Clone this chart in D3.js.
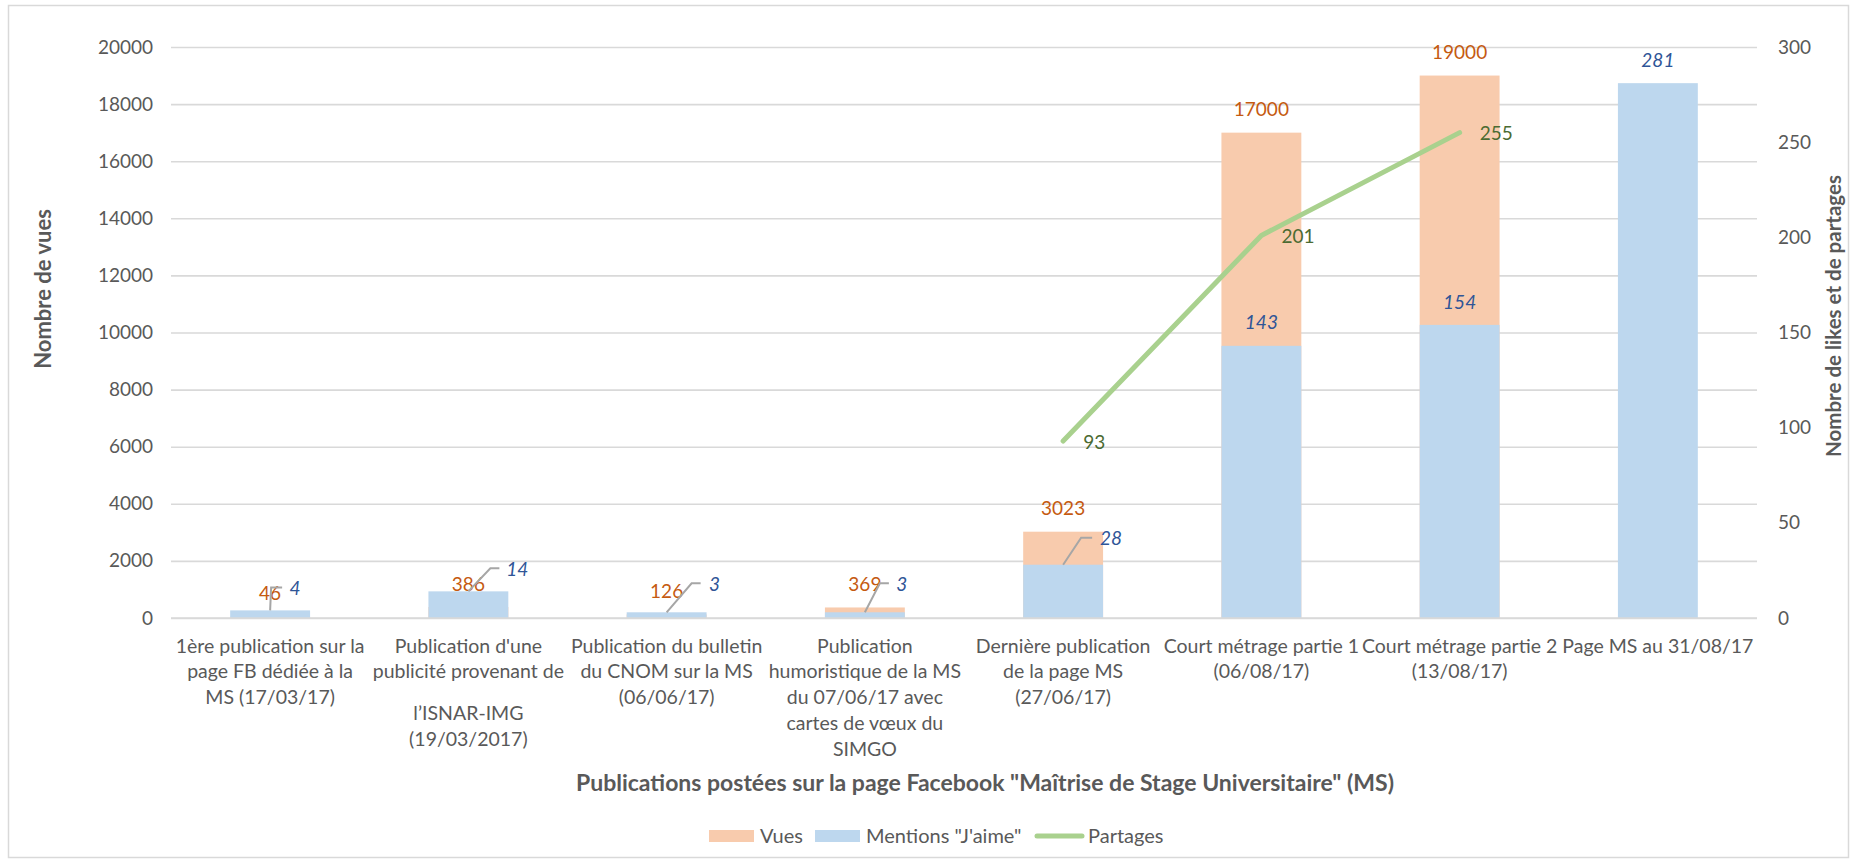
<!DOCTYPE html>
<html><head><meta charset="utf-8">
<script src="https://cdn.jsdelivr.net/npm/d3@7"></script>
<style>
html,body{margin:0;padding:0;background:#fff;}
svg text{font-family:Lato,"Open Sans",sans-serif;}
</style></head>
<body><svg id="chart" width="1851" height="859"></svg>
<script>
// ---------- data ----------
const categories = [
  ["1ère publication sur la","page FB dédiée à la","MS  (17/03/17)"],
  ["Publication d'une","publicité provenant de","","l’ISNAR-IMG","(19/03/2017)"],
  ["Publication du bulletin","du CNOM sur la MS","(06/06/17)"],
  ["Publication","humoristique de la MS","du 07/06/17 avec","cartes de vœux du","SIMGO"],
  ["Dernière publication","de la page MS","(27/06/17)"],
  ["Court métrage partie 1","(06/08/17)"],
  ["Court métrage partie 2","(13/08/17)"],
  ["Page MS au 31/08/17"]
];
const vues = [46, 386, 126, 369, 3023, 17000, 19000, null];
const likes = [4, 14, 3, 3, 28, 143, 154, 281];
const partages = [null, null, null, null, 93, 201, 255, null];
const leftTicks = [0,2000,4000,6000,8000,10000,12000,14000,16000,18000,20000];
const rightTicks = [0,50,100,150,200,250,300];
const seriesNames = ["Vues", "Mentions \"J'aime\"", "Partages"];

// leader-line label placement for small "likes" labels: [elbowDx, elbowDy, endDx, labelDx]
const likeLeader = [[1,-23,12,25],[22,-23,31,49],[25,-29,34,48],[15,-29,24,37],[18,-27,29,48],null,null,null];

// ---------- layout ----------
const svg = d3.select("#chart");
const C = {vues:"#F8CBAD", likes:"#BDD7EE", part:"#A9D18E", grid:"#D9D9D9", txt:"#595959",
           vLab:"#C55A11", lLab:"#2F5597", pLab:"#4B6B32", leader:"#A6A6A6"};
const plotL = 171, plotR = 1757, plotT = 47, plotB = 618;
const idx = d3.range(categories.length);
const x = d3.scaleBand().domain(idx).range([plotL, plotR]).padding(0);
const yL = d3.scaleLinear().domain([0, 20000]).range([plotB, plotT]);
const yR = d3.scaleLinear().domain([0, 300]).range([plotB, plotT]);
const barW = x.bandwidth() * 0.403;
const cx = i => x(i) + x.bandwidth() / 2;
const FS = "19px";

// chart border
svg.append("rect").attr("x", 8.5).attr("y", 5.5).attr("width", 1840).attr("height", 852)
  .attr("fill", "none").attr("stroke", C.grid).attr("stroke-width", 1.5);

// gridlines + left axis
const gL = svg.append("g").attr("transform", `translate(${plotL},0)`)
  .call(d3.axisLeft(yL).tickValues(leftTicks).tickSize(-(plotR - plotL)).tickPadding(18).tickFormat(d3.format("d")));
gL.select(".domain").remove();
gL.selectAll(".tick line").attr("stroke", C.grid).attr("stroke-width", 1.6);
gL.selectAll(".tick text").attr("fill", C.txt).style("font-size", FS);

// right axis
const gR = svg.append("g").attr("transform", `translate(${plotR},0)`)
  .call(d3.axisRight(yR).tickValues(rightTicks).tickSize(0).tickPadding(21));
gR.select(".domain").remove();
gR.selectAll(".tick text").attr("fill", C.txt).style("font-size", FS);

// bars
svg.append("g").selectAll("rect").data(idx.filter(i => vues[i] != null)).join("rect")
  .attr("x", i => cx(i) - barW / 2).attr("width", barW)
  .attr("y", i => yL(vues[i])).attr("height", i => yL(0) - yL(vues[i]))
  .attr("fill", C.vues);
svg.append("g").selectAll("rect").data(idx).join("rect")
  .attr("x", i => cx(i) - barW / 2).attr("width", barW)
  .attr("y", i => yR(likes[i])).attr("height", i => yR(0) - yR(likes[i]))
  .attr("fill", C.likes);

// baseline redraw (on top of bars)
svg.append("line").attr("x1", plotL).attr("x2", plotR).attr("y1", yL(0)).attr("y2", yL(0))
  .attr("stroke", C.grid).attr("stroke-width", 1.6);

// line
const line = d3.line().defined(d => d.v != null).x(d => cx(d.i)).y(d => yR(d.v));
svg.append("path").datum(idx.map(i => ({i, v: partages[i]})))
  .attr("d", line).attr("fill", "none").attr("stroke", C.part)
  .attr("stroke-width", 5).attr("stroke-linecap", "round").attr("stroke-linejoin", "round");

// vues labels
svg.append("g").selectAll("text").data(idx.filter(i => vues[i] != null)).join("text")
  .attr("x", i => cx(i)).attr("y", i => yL(vues[i]) - 23).attr("dy", "0.35em")
  .attr("text-anchor", "middle").attr("fill", C.vLab).style("font-size", FS)
  .text(i => vues[i]);

// likes labels + leaders
const lg = svg.append("g");
idx.forEach(i => {
  const top = yR(likes[i]), c = cx(i), L = likeLeader[i];
  if (L) {
    lg.append("polyline")
      .attr("points", [[c, top], [c + L[0], top + L[1]], [c + L[2], top + L[1]]].map(p => p.join(",")).join(" "))
      .attr("fill", "none").attr("stroke", C.leader).attr("stroke-width", 2);
    lg.append("text").attr("x", c + L[3]).attr("y", top + L[1] + 1).attr("dy", "0.35em")
      .attr("text-anchor", "middle").attr("fill", C.lLab).style("font-size", FS).style("font-style", "italic")
      .text(likes[i]);
  } else {
    lg.append("text").attr("x", c).attr("y", top - 23).attr("dy", "0.35em")
      .attr("text-anchor", "middle").attr("fill", C.lLab).style("font-size", FS).style("font-style", "italic")
      .text(likes[i]);
  }
});

// partages labels
svg.append("g").selectAll("text").data(idx.filter(i => partages[i] != null)).join("text")
  .attr("x", i => cx(i) + 20).attr("y", i => yR(partages[i]) + 1).attr("dy", "0.35em")
  .attr("fill", C.pLab).style("font-size", FS).text(i => partages[i]);

// category labels
const lineYs = [646, 671, 697, 723, 749];
const catG = svg.append("g");
idx.forEach(i => {
  const lines = categories[i];
  let ys = lineYs.slice();
  if (lines.length === 5 && lines[2] === "") ys = [646, 671, 697, 713, 739];
  const t = catG.append("text").attr("text-anchor", "middle").attr("fill", C.txt).style("font-size", "19.5px");
  lines.forEach((s, k) => {
    if (s === "") return;
    t.append("tspan").attr("x", cx(i)).attr("y", ys[k]).attr("dy", "0.35em").text(s);
  });
});

// axis titles
svg.append("text").attr("transform", "translate(43,289) rotate(-90)").attr("text-anchor", "middle")
  .attr("dy", "0.35em").attr("fill", C.txt).style("font-size", "22px").style("font-weight", "bold")
  .text("Nombre de vues");
svg.append("text").attr("transform", "translate(1834,316) rotate(-90)").attr("text-anchor", "middle")
  .attr("dy", "0.35em").attr("fill", C.txt).style("font-size", "20.5px").style("font-weight", "bold")
  .text("Nombre de likes et de partages");
svg.append("text").attr("x", 985).attr("y", 783).attr("text-anchor", "middle")
  .attr("dy", "0.35em").attr("fill", C.txt).style("font-size", "23px").style("font-weight", "bold")
  .text("Publications postées sur la page Facebook \"Maîtrise de Stage Universitaire\" (MS)");

// legend
const leg = svg.append("g");
const legItems = [
  {name: seriesNames[0], type: "rect", color: C.vues, sx: 709, tx: 760},
  {name: seriesNames[1], type: "rect", color: C.likes, sx: 815, tx: 866},
  {name: seriesNames[2], type: "line", color: C.part, sx: 1035, tx: 1088}
];
legItems.forEach(d => {
  if (d.type === "rect") leg.append("rect").attr("x", d.sx).attr("y", 830).attr("width", 45).attr("height", 12).attr("fill", d.color);
  else leg.append("line").attr("x1", d.sx + 2).attr("x2", d.sx + 47).attr("y1", 836).attr("y2", 836)
    .attr("stroke", d.color).attr("stroke-width", 5).attr("stroke-linecap", "round");
  leg.append("text").attr("x", d.tx).attr("y", 836).attr("dy", "0.35em").attr("fill", C.txt)
    .style("font-size", "20px").text(d.name);
});
</script></body></html>
